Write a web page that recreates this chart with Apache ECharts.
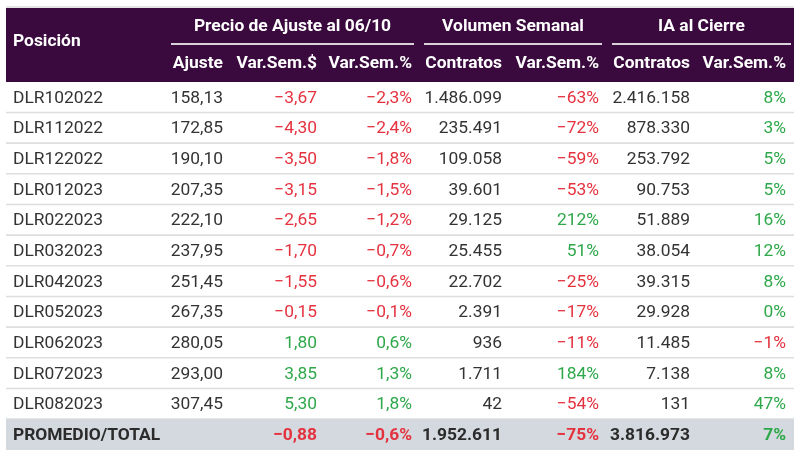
<!DOCTYPE html>
<html>
<head>
<meta charset="utf-8">
<script src="https://cdn.jsdelivr.net/npm/echarts@6/dist/echarts.min.js"></script>
<style>
html,body{margin:0;padding:0;background:#fff;}
#chart{width:800px;height:457px;}
</style>
</head>
<body>
<div id="chart"></div>
<script>
// ---- data ----
const positions = ['DLR102022','DLR112022','DLR122022','DLR012023','DLR022023','DLR032023','DLR042023','DLR052023','DLR062023','DLR072023','DLR082023'];
const ajuste = [158.13,172.85,190.10,207.35,222.10,237.95,251.45,267.35,280.05,293.00,307.45];
const varSemPesos = [-3.67,-4.30,-3.50,-3.15,-2.65,-1.70,-1.55,-0.15,1.80,3.85,5.30];
const varSemPct = [-2.3,-2.4,-1.8,-1.5,-1.2,-0.7,-0.6,-0.1,0.6,1.3,1.8];
const volContratos = [1486099,235491,109058,39601,29125,25455,22702,2391,936,1711,42];
const volVarPct = [-63,-72,-59,-53,212,51,-25,-17,-11,184,-54];
const iaContratos = [2416158,878330,253792,90753,51889,38054,39315,29928,11485,7138,131];
const iaVarPct = [8,3,5,5,16,12,8,0,-1,8,47];
const totalLabel = 'PROMEDIO/TOTAL';
const totalVarSemPesos = -0.88;
const totalVarSemPct = -0.6;
const totalVolContratos = 1952611;
const totalVolVarPct = -75;
const totalIaContratos = 3816973;
const totalIaVarPct = 7;
const groupTitles = ['Precio de Ajuste al 06/10','Volumen Semanal','IA al Cierre'];
const subHeaders = ['Ajuste','Var.Sem.$','Var.Sem.%','Contratos','Var.Sem.%','Contratos','Var.Sem.%'];
const firstHeader = 'Posición';

// ---- layout (positions/styles) ----
const TL = 6, TR = 794;
const colX = [13,223,317,412,502,599,690,786];
const RED = '#e5323f', GREEN = '#2ea84a', DARK = '#333333';
const FONT = 'Roboto, "Noto Sans", sans-serif';
const FS = '17.4px ';

// ---- formatting ----
const MINUS = '\u2212';
function fmtDec(v,d){const s=Math.abs(v).toFixed(d).replace('.',',');return (v<0?MINUS:'')+s;}
function fmtInt(v){const s=String(Math.abs(v)).replace(/\B(?=(\d{3})+(?!\d))/g,'.');return (v<0?MINUS:'')+s;}
function sgnColor(v){return v<0?RED:GREEN;}

// build rows
const rows = positions.map((p,i)=>({
  cells:[
    {t:p,c:DARK},
    {t:fmtDec(ajuste[i],2),c:DARK},
    {t:fmtDec(varSemPesos[i],2),c:sgnColor(varSemPesos[i])},
    {t:fmtDec(varSemPct[i],1)+'%',c:sgnColor(varSemPct[i])},
    {t:fmtInt(volContratos[i]),c:DARK},
    {t:fmtInt(volVarPct[i])+'%',c:sgnColor(volVarPct[i])},
    {t:fmtInt(iaContratos[i]),c:DARK},
    {t:fmtInt(iaVarPct[i])+'%',c:sgnColor(iaVarPct[i])}
  ], total:false
}));
rows.push({cells:[
    {t:totalLabel,c:'#2b2b2b'},
    {t:'',c:DARK},
    {t:fmtDec(totalVarSemPesos,2),c:sgnColor(totalVarSemPesos)},
    {t:fmtDec(totalVarSemPct,1)+'%',c:sgnColor(totalVarSemPct)},
    {t:fmtInt(totalVolContratos),c:'#2b2b2b'},
    {t:fmtInt(totalVolVarPct)+'%',c:sgnColor(totalVolVarPct)},
    {t:fmtInt(totalIaContratos),c:'#2b2b2b'},
    {t:fmtInt(totalIaVarPct)+'%',c:sgnColor(totalIaVarPct)}
  ], total:true});

const categories = positions.concat([totalLabel]);

function renderItem(params, api){
  const r = api.value(0);
  const row = rows[r];
  const left = api.coord([TL, r]);
  const right = api.coord([TR, r]);
  const h = api.size([0,1])[1];
  const yc = left[1];
  const children = [];
  if(row.total){
    children.push({type:'rect',shape:{x:left[0],y:yc-h/2,width:right[0]-left[0],height:h},style:{fill:'#d3d9de'}});
  } else {
    children.push({type:'rect',shape:{x:left[0],y:yc+h/2-1,width:right[0]-left[0],height:1.6},style:{fill:'#dedede'}});
  }
  row.cells.forEach((cell,j)=>{
    const p = api.coord([colX[j], r]);
    children.push({type:'text',style:{
      text:cell.t,x:p[0],y:yc+1,
      align:j===0?'left':'right',verticalAlign:'middle',
      fill:cell.c,
      font:(row.total?'bold ':'')+FS+FONT
    }});
  });
  return {type:'group',children};
}

const headerEls = [
  {type:'rect',shape:{x:TL,y:6,width:TR-TL,height:2},style:{fill:'#e4e4e4'},z:1},
  {type:'rect',shape:{x:TL,y:8,width:TR-TL,height:74},style:{fill:'#3a0a3f'},z:1},
  {type:'text',style:{text:firstHeader,x:13,y:42,align:'left',verticalAlign:'middle',fill:'#fff',font:'bold '+FS+FONT},z:2}
];
const groupSpans = [[171,414],[424,602],[612,791]];
groupTitles.forEach((g,i)=>{
  const s = groupSpans[i];
  headerEls.push({type:'text',style:{text:g,x:(s[0]+s[1])/2,y:27,align:'center',verticalAlign:'middle',fill:'#fff',font:'bold '+FS+FONT},z:2});
  headerEls.push({type:'rect',shape:{x:s[0],y:43,width:s[1]-s[0],height:2},style:{fill:'#d9d2da'},z:2});
});
subHeaders.forEach((s,i)=>{
  headerEls.push({type:'text',style:{text:s,x:colX[i+1],y:64,align:'right',verticalAlign:'middle',fill:'#fff',font:'bold '+FS+FONT},z:2});
});

const chart = echarts.init(document.getElementById('chart'));
chart.setOption({
  animation:false,
  backgroundColor:'#ffffff',
  grid:{left:0,right:0,top:82,bottom:7},
  xAxis:{type:'value',min:0,max:800,show:false},
  yAxis:{type:'category',data:categories,inverse:true,show:false},
  graphic:headerEls,
  series:[{
    type:'custom',
    renderItem:renderItem,
    data:categories.map((c,i)=>[i]),
    encode:{y:0},
    silent:true
  }]
});
</script>
</body>
</html>
